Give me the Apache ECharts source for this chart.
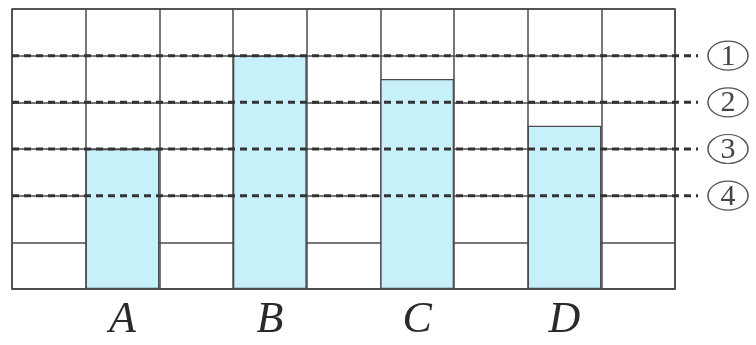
<!DOCTYPE html>
<html>
<head>
<meta charset="utf-8">
<script src="https://cdn.jsdelivr.net/npm/echarts@6/dist/echarts.min.js"></script>
<style>
  html, body { margin: 0; padding: 0; background: #fff; }
  #chart { width: 756px; height: 345px; }
</style>
</head>
<body>
<div id="chart"></div>
<script>
const categories = ['', 'A', '', 'B', '', 'C', '', 'D', ''];
const barValues = [null, 3, null, 5, null, 4.5, null, 3.5, null];
const levelValues = [5, 4, 3, 2];
const levelMarks = ['1', '2', '3', '4'];
const yMax = 6;

const gridColor = '#4a4a4a';
const chart = echarts.init(document.getElementById('chart'), null, { renderer: 'canvas' });

const levelSeries = levelValues.map((v, i) => ({
  type: 'line',
  xAxisIndex: 1,
  yAxisIndex: 1,
  clip: false,
  silent: true,
  z: 10,
  lineStyle: { type: [7, 5], width: 3, color: '#333' },
  itemStyle: { color: '#333' },
  data: [
    { value: [0, v], symbol: 'none' },
    {
      value: [1, v],
      symbol: 'circle',
      symbolSize: [40, 29],
      symbolOffset: [30, 0],
      itemStyle: { color: '#fff', borderColor: '#555', borderWidth: 1.3 },
      label: {
        show: true,
        position: 'inside',
        formatter: levelMarks[i],
        fontFamily: 'Liberation Serif',
        fontSize: 30,
        color: '#444',
        offset: [0, 1]
      }
    }
  ]
}));

chart.setOption({
  animation: false,
  backgroundColor: '#fff',
  grid: [
    { left: 12, width: 663, top: 9, height: 280, show: true, borderColor: gridColor, borderWidth: 1.5, backgroundColor: 'transparent' },
    { left: 12, width: 686, top: 9, height: 280 }
  ],
  xAxis: [
    {
      type: 'category',
      gridIndex: 0,
      data: categories,
      boundaryGap: true,
      axisLine: { show: true, lineStyle: { color: gridColor, width: 1.5 } },
      axisTick: { show: false },
      axisLabel: {
        interval: 0,
        margin: 9,
        fontFamily: 'Liberation Serif',
        fontStyle: 'italic',
        fontSize: 44,
        color: '#2a2a2a'
      },
      splitLine: { show: true, interval: 0, lineStyle: { color: gridColor, width: 1.5 } }
    },
    { type: 'value', gridIndex: 1, min: 0, max: 1, show: false }
  ],
  yAxis: [
    {
      type: 'value',
      gridIndex: 0,
      min: 0,
      max: yMax,
      interval: 1,
      axisLabel: { show: false },
      axisLine: { show: false },
      axisTick: { show: false },
      splitLine: { show: true, lineStyle: { color: gridColor, width: 1.5 } }
    },
    { type: 'value', gridIndex: 1, min: 0, max: yMax, show: false }
  ],
  series: [
    {
      type: 'bar',
      xAxisIndex: 0,
      yAxisIndex: 0,
      data: barValues,
      barWidth: '100%',
      silent: true,
      itemStyle: { color: '#c6f1fa', borderColor: '#4a4a4a', borderWidth: 1.3 }
    },
    ...levelSeries
  ]
});
</script>
</body>
</html>
